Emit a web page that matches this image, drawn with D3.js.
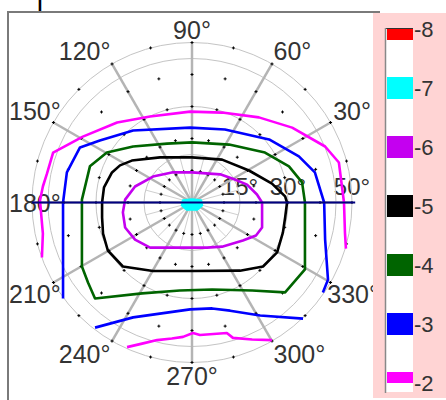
<!DOCTYPE html>
<html>
<head>
<meta charset="utf-8">
<script src="https://cdn.jsdelivr.net/npm/d3@7"></script>
<style>
  body { margin: 0; background: #fff; }
  svg { display: block; }
</style>
</head>
<body>
<svg id="fig"></svg>
<script>
// contour levels and their colours (legend order, top to bottom)
const levels = [-8, -7, -6, -5, -4, -3, -2];
const levelColors = ['#ff0000', '#00ffff', '#c400f0', '#000000', '#006400', '#0000ff', '#ff00ff'];

// polar grid: azimuth labels, polar-angle rings (deg)
const angleTicks = [30, 60, 90, 120, 150, 180, 210, 240, 270, 300, 330];
const spokeAngles = [0, 30, 60, 90, 120, 150, 180, 210, 240, 270, 300, 330];
const fineSpokes = [15, 45, 75, 105, 135, 165, 195, 225, 255, 285, 315, 345];
const ringTicks = [15, 30, 45, 50];
const ringLabels = [15, 30, 50];

// measurement grid (azimuth every 15 deg, polar angle every 10 deg)
const sampleAngles = [0, 15, 30, 45, 60, 75, 90, 105, 120, 135, 150, 165, 180,
                      195, 210, 225, 240, 255, 270, 285, 300, 315, 330, 345];
const sampleRings = [10, 20, 30, 40, 50];

// contour lines, projected polar coords [theta*cos(phi), theta*sin(phi)] in deg
const contM7 = [[-2.8, 0.6], [0, 0.9], [2.8, 0.6], [3.1, -0.9], [1.6, -2.2], [-1.6, -2.2], [-3.1, -0.9]];
const contM6 = [[0, 9.4], [8.8, 8.8], [13.4, 7.2], [17.2, 5.6], [20.3, 2.5], [21.9, 0], [21.9, -4.7],
  [21.9, -7.8], [20, -10.3], [15.9, -11.9], [9.4, -13.8], [4.7, -14.1], [0, -14.1], [-6.3, -14.1],
  [-13.1, -14.1], [-17.8, -11.6], [-20.9, -7.8], [-21.6, -3.1], [-20.9, 0.9], [-17.8, 5],
  [-12.2, 8.1], [-6.3, 9.4]];
const contM5 = [[0, 14.1], [9.4, 13.4], [17.8, 10], [25, 5.9], [29.1, 1.9], [29.7, 0], [29.1, -4.7],
  [28.4, -9.4], [26.6, -15.6], [22.2, -20], [15, -21.3], [0, -21.4], [-12.2, -21.4], [-21.6, -20],
  [-26.3, -15], [-27.8, -9.7], [-28.1, -4.7], [-28.1, 0], [-27.5, 4.7], [-25, 9.4], [-22.5, 11.6],
  [-18.8, 13.1], [-10, 14.1]];
const contM4 = [[0, 18.8], [11.6, 18.1], [22.8, 15.6], [30.3, 11.3], [34.4, 6.3], [35.3, 0],
  [35.3, -10.9], [35.3, -20.9], [29.1, -28.1], [18.8, -27.5], [6.3, -27.2], [-3.8, -27.5],
  [-15.6, -28.4], [-30.3, -30], [-32.5, -25], [-34.4, -20], [-34.4, -9.4], [-34.4, 0.9],
  [-31.9, 11.3], [-26.6, 15.6], [-18.4, 17.5], [-7.8, 18.4]];
const contM3a = [[-40.3, -30], [-40.3, -18.8], [-40.3, -6.3], [-40.3, 0], [-39.1, 9.4], [-35, 17.2],
  [-28.8, 19.4], [-18.4, 22.5], [-0.6, 23.4], [10.3, 22.8], [24.1, 19.7], [33.4, 14.4], [38.4, 9.4],
  [41.3, 0], [41.6, -11.6], [42.5, -24.1], [40.9, -28.1]];
const contM3b = [[-30.3, -39.1], [-18.4, -35.9], [-0.6, -33.4], [6.3, -33.1], [11.9, -33.8],
  [21.3, -35.3], [34.7, -36.3]];
const contM2a = [[-46.9, -17.2], [-46.6, -9.7], [-47.5, 0.6], [-46.6, 5], [-45.3, 9.1], [-43.4, 15.6],
  [-34.1, 20.6], [-23.4, 25], [-13.1, 26.9], [-0.6, 28.4], [9.4, 28.1], [20.9, 26.6], [31.3, 23.4],
  [41.6, 17.5], [45.9, 12.5], [47.5, 0], [47.8, -9.4], [48.1, -14.4]];
const contM2b = [[-20.3, -45.2], [-15.6, -44.1], [-10.9, -43], [-6.3, -42.5], [-2.8, -42], [0.3, -40.8],
  [2.5, -41.4], [10.9, -40.8], [12.8, -42.3], [18.8, -42.8], [25, -43]];

const contours = [
  { level: -7, closed: true, pts: contM7 },
  { level: -6, closed: true, pts: contM6 },
  { level: -5, closed: true, pts: contM5 },
  { level: -4, closed: true, pts: contM4 },
  { level: -3, closed: false, pts: contM3a },
  { level: -3, closed: false, pts: contM3b },
  { level: -2, closed: false, pts: contM2a },
  { level: -2, closed: false, pts: contM2b }
];

const width = 446, height = 400;
const cx = 192, cy = 202.5, R = 160;

const svg = d3.select('#fig').attr('width', width).attr('height', height)
  .style('font-family', '"Liberation Sans", Arial, sans-serif');

const rScale = d3.scaleLinear().domain([0, 50]).range([0, R]);
const xScale = d3.scaleLinear().domain([-50, 50]).range([cx - R, cx + R]);
const yScale = d3.scaleLinear().domain([-50, 50]).range([cy + R, cy - R]);
const color = d3.scaleOrdinal().domain(levels).range(levelColors);
const rad = a => a * Math.PI / 180;

// cut-off title letter and frame
svg.append('text').attr('x', 40).attr('y', 13).attr('text-anchor', 'middle')
  .style('font-family', '"Liberation Serif", serif').style('font-size', '26px').text('T');
svg.append('path').attr('d', `M8,400V12H380`).attr('fill', 'none')
  .attr('stroke', '#7a7a7a').attr('stroke-width', 2);

const g = svg.append('g').attr('transform', `translate(${cx},${cy})`);

// azimuth labels, kept inside the frame
const labG = svg.append('g').attr('fill', '#333').style('font-size', '25px');
angleTicks.forEach(a => {
  const c = Math.cos(rad(a)), s = Math.sin(rad(a));
  const t = labG.append('text').attr('text-anchor', 'middle').attr('dominant-baseline', 'central')
    .text(a + '°');
  const w = t.node().getComputedTextLength();
  const sx = Math.abs(c) < 1e-6 ? 0 : Math.sign(c), sy = Math.abs(s) < 1e-6 ? 0 : Math.sign(s);
  let x = cx + 163 * c + sx * w / 2;
  const y = cy - 163 * s - sy * 10;
  x = Math.max(9 + w / 2, Math.min(379 - w / 2, x));
  t.attr('x', x).attr('y', y);
});

// polar-angle labels along 0 deg
g.selectAll('.rlab').data(ringLabels).enter().append('text')
  .attr('x', d => rScale(d)).attr('y', -16)
  .attr('text-anchor', 'middle').attr('dominant-baseline', 'central')
  .attr('fill', '#333').style('font-size', '24px')
  .text(d => d + '°');

// grid
g.selectAll('.ring').data(ringTicks).enter().append('circle')
  .attr('r', d => rScale(d)).attr('fill', 'none').attr('stroke', '#c4c4c4').attr('stroke-width', 1);
g.selectAll('.fine').data(fineSpokes).enter().append('line')
  .attr('x2', d => rScale(15) * Math.cos(rad(d))).attr('y2', d => -rScale(15) * Math.sin(rad(d)))
  .attr('stroke', '#cfcfcf').attr('stroke-width', 1);
g.selectAll('.spoke').data(spokeAngles).enter().append('line')
  .attr('x2', d => R * Math.cos(rad(d))).attr('y2', d => -R * Math.sin(rad(d)))
  .attr('stroke', '#b4b4b4').attr('stroke-width', 2.5);

// contours
const line = d3.line().x(d => xScale(d[0])).y(d => yScale(d[1]));
const lineClosed = d3.line().x(d => xScale(d[0])).y(d => yScale(d[1])).curve(d3.curveLinearClosed);
svg.selectAll('.cont').data(contours).enter().append('path')
  .attr('d', d => d.closed ? lineClosed(d.pts) : line(d.pts))
  .attr('fill', d => d.level === -7 ? color(d.level) : 'none')
  .attr('stroke', d => color(d.level))
  .attr('stroke-width', 2.6).attr('stroke-linejoin', 'round');

// 0-180 axis
svg.append('line').attr('x1', xScale(-50)).attr('x2', xScale(51)).attr('y1', cy).attr('y2', cy)
  .attr('stroke', '#000080').attr('stroke-width', 2);

// sample points
const samples = [];
sampleRings.forEach(r => sampleAngles.forEach(a => samples.push([r, a])));
g.selectAll('.pt').data(samples).enter().append('path')
  .attr('transform', d => `translate(${rScale(d[0]) * Math.cos(rad(d[1]))},${-rScale(d[0]) * Math.sin(rad(d[1]))})`)
  .attr('d', 'M-1.5,0H1.5M0,-1.5V1.5').attr('stroke', '#000').attr('stroke-width', 1);

// colour bar
const leg = svg.append('g');
leg.append('rect').attr('x', 373).attr('y', 13).attr('width', 73).attr('height', 385).attr('fill', '#ffd4d4');
const yLeg = d3.scaleLinear().domain([-8, -2]).range([29, 383]);
leg.append('rect').attr('x', 386).attr('y', 28).attr('width', 27).attr('height', 364).attr('fill', '#fff');
leg.selectAll('.box').data(levels).enter().append('rect')
  .attr('x', 387).attr('width', 26)
  .attr('y', d => Math.max(29, yLeg(d) - 11))
  .attr('height', d => Math.min(383, yLeg(d) + 11) - Math.max(29, yLeg(d) - 11))
  .attr('fill', d => color(d));
leg.append('line').attr('x1', 385).attr('x2', 413).attr('y1', 28.5).attr('y2', 28.5)
  .attr('stroke', '#333').attr('stroke-width', 1);
leg.append('line').attr('x1', 385.5).attr('x2', 385.5).attr('y1', 28).attr('y2', 393)
  .attr('stroke', '#888').attr('stroke-width', 1.5);
leg.selectAll('.lab').data(levels).enter().append('text')
  .attr('x', 414).attr('y', d => yLeg(d)).attr('dominant-baseline', 'central')
  .attr('fill', '#333').style('font-size', '22px')
  .text(d => '-' + Math.abs(d));
</script>
</body>
</html>
